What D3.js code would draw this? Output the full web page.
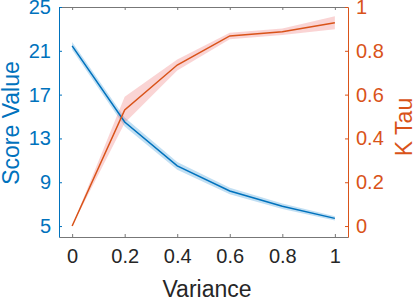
<!DOCTYPE html>
<html>
<head>
<meta charset="utf-8">
<script src="https://cdn.jsdelivr.net/npm/d3@7"></script>
<style>
  body { margin: 0; background: #fff; }
  text { font-family: "Liberation Sans", Arial, sans-serif; }
</style>
</head>
<body>
<svg id="main-svg" width="415" height="300"></svg>
<script>
// data
const variance = [0, 0.2, 0.4, 0.6, 0.8, 1];
const scoreMean = [21.45, 14.5, 10.5, 8.2, 6.8, 5.7];
const scoreErr = [0.35, 0.4, 0.35, 0.3, 0.25, 0.2];
const tauMean = [0.0, 0.53, 0.735, 0.868, 0.887, 0.928];
const tauErr = [0.0, 0.06, 0.025, 0.015, 0.015, 0.03];

const xTicks = [0, 0.2, 0.4, 0.6, 0.8, 1];
const leftTicks = [5, 9, 13, 17, 21, 25];
const rightTicks = [0, 0.2, 0.4, 0.6, 0.8, 1];

const blue = '#0072BD';
const orange = '#D95319';

const svg = d3.select('#main-svg');

const plotL = 59, plotR = 348, plotT = 7, plotB = 237;

const x = d3.scaleLinear().domain([-0.05, 1.05]).range([plotL, plotR]);
const yL = d3.scaleLinear().domain([4, 25]).range([plotB, plotT]);
const yR = d3.scaleLinear().domain([-0.05, 1]).range([plotB, plotT]);

// shaded bands
const bandL = d3.area()
    .x((d, i) => x(variance[i]))
    .y0((d, i) => yL(scoreMean[i] - scoreErr[i]))
    .y1((d, i) => yL(scoreMean[i] + scoreErr[i]));
const bandR = d3.area()
    .x((d, i) => x(variance[i]))
    .y0((d, i) => yR(tauMean[i] - tauErr[i]))
    .y1((d, i) => yR(tauMean[i] + tauErr[i]));

svg.append('path').attr('d', bandL(variance))
    .attr('fill', '#4da3dc').attr('fill-opacity', 0.35);
svg.append('path').attr('d', bandR(variance))
    .attr('fill', '#f07070').attr('fill-opacity', 0.3);

const lineL = d3.line().x((d, i) => x(variance[i])).y(d => yL(d));
const lineR = d3.line().x((d, i) => x(variance[i])).y(d => yR(d));

svg.append('path').attr('d', lineL(scoreMean))
    .attr('fill', 'none').attr('stroke', blue).attr('stroke-width', 1.5);
svg.append('path').attr('d', lineR(tauMean))
    .attr('fill', 'none').attr('stroke', orange).attr('stroke-width', 1.5);

// axes, ticks inside like the original
const tk = 3;
const bottomAxis = svg.append('g').attr('transform', `translate(0,${plotB})`)
    .call(d3.axisBottom(x).tickValues(xTicks).tickSizeInner(-tk).tickSizeOuter(0)
        .tickPadding(8).tickFormat(d3.format('')));
bottomAxis.select('.domain').attr('stroke', '#777');
bottomAxis.selectAll('line').attr('stroke', '#777');
bottomAxis.selectAll('text').attr('fill', '#262626').style('font-size', '20px')
    .attr('dy', '0.9em');

const topAxis = svg.append('g').attr('transform', `translate(0,${plotT})`)
    .call(d3.axisTop(x).tickValues(xTicks).tickSizeInner(-tk).tickSizeOuter(0).tickFormat(''));
topAxis.select('.domain').attr('stroke', '#777');
topAxis.selectAll('line').attr('stroke', '#777');

const leftAxis = svg.append('g').attr('transform', `translate(${plotL},0)`)
    .call(d3.axisLeft(yL).tickValues(leftTicks).tickSizeInner(-tk).tickSizeOuter(0).tickPadding(8));
leftAxis.select('.domain').attr('stroke', blue);
leftAxis.selectAll('line').attr('stroke', blue);
leftAxis.selectAll('text').attr('fill', blue).style('font-size', '20px');

const rightAxis = svg.append('g').attr('transform', `translate(${plotR},0)`)
    .call(d3.axisRight(yR).tickValues(rightTicks).tickSizeInner(-tk).tickSizeOuter(0).tickPadding(8)
        .tickFormat(d3.format('')));
rightAxis.select('.domain').attr('stroke', orange);
rightAxis.selectAll('line').attr('stroke', orange);
rightAxis.selectAll('text').attr('fill', orange).style('font-size', '20px');

// axis titles
svg.append('text').attr('x', 207).attr('y', 297).attr('text-anchor', 'middle')
    .attr('fill', '#262626').style('font-size', '23px').text('Variance');
svg.append('text').attr('transform', 'translate(19,123) rotate(-90)').attr('text-anchor', 'middle')
    .attr('fill', blue).style('font-size', '23px').text('Score Value');
svg.append('text').attr('transform', 'translate(412,127) rotate(-90)').attr('text-anchor', 'middle')
    .attr('fill', orange).style('font-size', '23px').text('K Tau');
</script>
</body>
</html>
